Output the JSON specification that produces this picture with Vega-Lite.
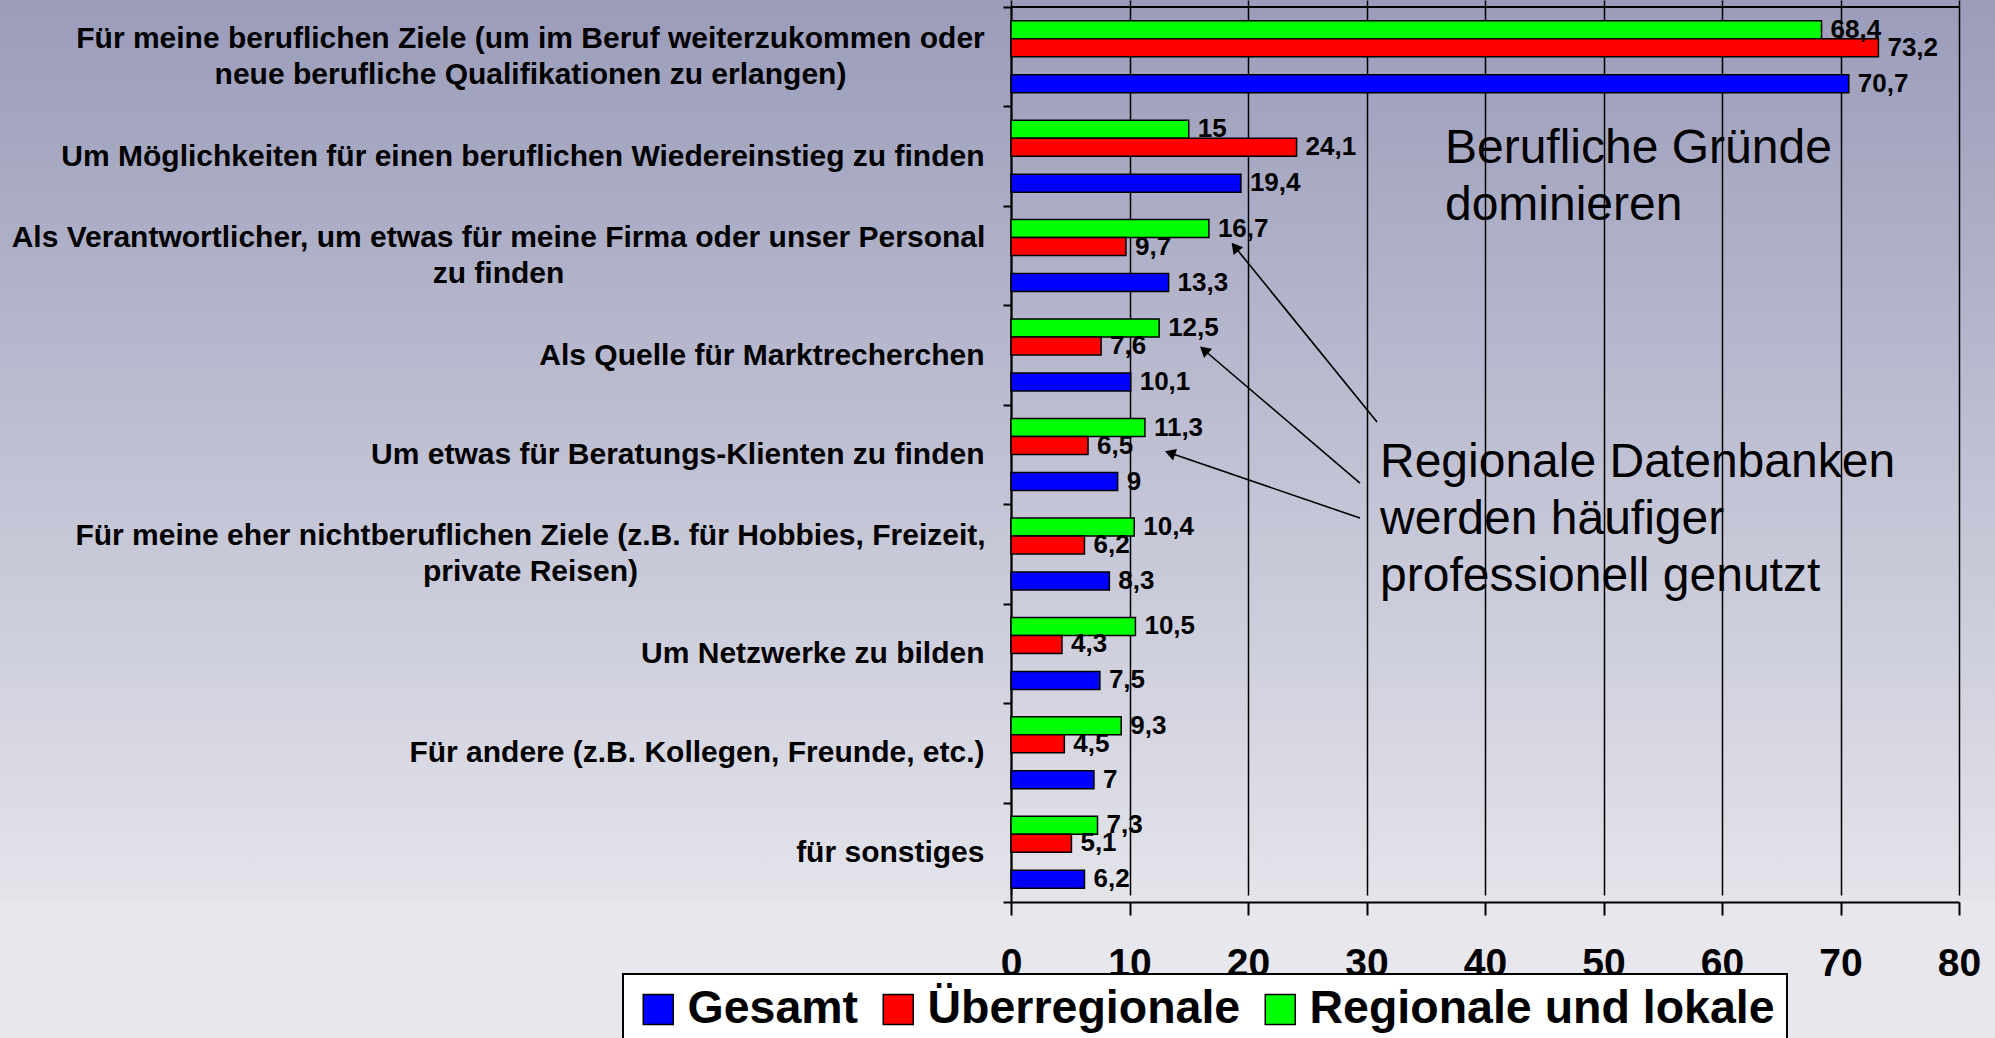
{
  "$schema": "https://vega.github.io/schema/vega-lite/v6.json",
  "width": 1995,
  "height": 902,
  "autosize": {"type": "none"},
  "padding": {"left": 0, "top": 0, "right": 0, "bottom": 136},
  "background": "#e7e7ed",
  "view": {
    "fill": {"gradient": "linear", "x1": 0, "y1": 0, "x2": 0, "y2": 1,
      "stops": [{"offset": 0, "color": "#9a9cba"}, {"offset": 1, "color": "#e4e4eb"}]},
    "stroke": null
  },
  "config": {
    "font": "Liberation Sans",
    "locale": {"number": {"decimal": ",", "thousands": ".", "grouping": [3], "currency": ["", " €"]}},
    "legend": {"strokeWidth": 2}
  },
  "datasets": {
    "umfrage": [
      {"Kategorie": "Für meine beruflichen Ziele (um im Beruf weiterzukommen oder\nneue berufliche Qualifikationen zu erlangen)", "Gesamt": 70.7, "Überregionale": 73.2, "Regionale und lokale": 68.4},
      {"Kategorie": "Um Möglichkeiten für einen beruflichen Wiedereinstieg zu finden", "Gesamt": 19.4, "Überregionale": 24.1, "Regionale und lokale": 15},
      {"Kategorie": "Als Verantwortlicher, um etwas für meine Firma oder unser Personal\nzu finden", "Gesamt": 13.3, "Überregionale": 9.7, "Regionale und lokale": 16.7},
      {"Kategorie": "Als Quelle für Marktrecherchen", "Gesamt": 10.1, "Überregionale": 7.6, "Regionale und lokale": 12.5},
      {"Kategorie": "Um etwas für Beratungs-Klienten zu finden", "Gesamt": 9, "Überregionale": 6.5, "Regionale und lokale": 11.3},
      {"Kategorie": "Für meine eher nichtberuflichen Ziele (z.B. für Hobbies, Freizeit,\nprivate Reisen)", "Gesamt": 8.3, "Überregionale": 6.2, "Regionale und lokale": 10.4},
      {"Kategorie": "Um Netzwerke zu bilden", "Gesamt": 7.5, "Überregionale": 4.3, "Regionale und lokale": 10.5},
      {"Kategorie": "Für andere (z.B. Kollegen, Freunde, etc.)", "Gesamt": 7, "Überregionale": 4.5, "Regionale und lokale": 9.3},
      {"Kategorie": "für sonstiges", "Gesamt": 6.2, "Überregionale": 5.1, "Regionale und lokale": 7.3}
    ],
    "pfeile": [
      {"x_von": 30.89, "y_von": 4.173, "x_bis": 18.9, "y_bis": 2.413},
      {"x_von": 29.45, "y_von": 4.787, "x_bis": 16.29, "y_bis": 3.449},
      {"x_von": 29.45, "y_von": 5.139, "x_bis": 13.42, "y_bis": 4.485}
    ],
    "notizen": [
      {"text": "Berufliche Gründe\ndominieren", "x": 36.62, "y": 1.428},
      {"text": "Regionale Datenbanken\nwerden häufiger\nprofessionell genutzt", "x": 31.14, "y": 4.586}
    ]
  },
  "resolve": {"scale": {"y": "independent"}},
  "layer": [
    {
      "data": {"name": "umfrage"},
      "mark": {"type": "bar", "height": 18, "yOffset": -27, "stroke": "#000", "strokeWidth": 1.5, "opacity": 1},
      "encoding": {
        "y": {"field": "Kategorie", "type": "nominal", "sort": null, "scale": {"range": [7, 902], "paddingInner": 0, "paddingOuter": 0}, "axis": null},
        "x": {
          "field": "Regionale und lokale", "type": "quantitative",
          "scale": {"domain": [0, 80], "range": [1011, 1959], "nice": false, "zero": true},
          "axis": {
            "orient": "bottom", "title": null,
            "values": [0, 10, 20, 30, 40, 50, 60, 70, 80],
            "grid": true, "gridColor": "#000", "gridWidth": 1.5, "gridOpacity": 1,
            "domain": true, "domainColor": "#000", "domainWidth": 2,
            "ticks": true, "tickColor": "#000", "tickWidth": 2, "tickSize": 13,
            "labelFontSize": 39, "labelFontWeight": "bold", "labelColor": "#000",
            "labelPadding": 29, "labelFlush": false, "labelOverlap": false
          }
        },
        "color": {
          "datum": "Regionale und lokale", "type": "nominal",
          "scale": {"domain": ["Gesamt", "Überregionale", "Regionale und lokale"], "range": ["#0000ff", "#ff0000", "#00ff00"]},
          "legend": {
            "orient": "none", "legendX": 623, "legendY": 974, "direction": "horizontal", "title": null,
            "symbolType": "square", "symbolSize": 900, "symbolStrokeColor": "#000", "symbolStrokeWidth": 1.5,
            "symbolOpacity": 1,
            "labelFontSize": 46.5, "labelFontWeight": "bold", "labelColor": "#000", "labelLimit": 0,
            "labelOffset": 6, "columnPadding": 16, "padding": 12,
            "fillColor": "#ffffff", "strokeColor": "#000"
          }
        }
      }
    },
    {
      "data": {"name": "umfrage"},
      "mark": {"type": "bar", "height": 18, "yOffset": -9, "stroke": "#000", "strokeWidth": 1.5, "opacity": 1},
      "encoding": {
        "y": {"field": "Kategorie", "type": "nominal", "sort": null, "scale": {"range": [7, 902], "paddingInner": 0, "paddingOuter": 0}, "axis": null},
        "x": {"field": "Überregionale", "type": "quantitative"},
        "color": {"datum": "Überregionale", "type": "nominal"}
      }
    },
    {
      "data": {"name": "umfrage"},
      "mark": {"type": "bar", "height": 18, "yOffset": 27, "stroke": "#000", "strokeWidth": 1.5, "opacity": 1},
      "encoding": {
        "y": {
          "field": "Kategorie", "type": "nominal", "sort": null,
          "scale": {"range": [7, 902], "paddingInner": 0, "paddingOuter": 0},
          "axis": {
            "orient": "left", "offset": -1011, "title": null,
            "domain": true, "domainColor": "#000", "domainWidth": 2,
            "ticks": true, "tickBand": "extent", "tickColor": "#000", "tickWidth": 2, "tickSize": 8,
            "grid": false,
            "labelFontSize": 30, "labelFontWeight": "bold", "labelColor": "#000",
            "labelLimit": 0, "labelPadding": 19, "labelAlign": "right", "labelBaseline": "middle",
            "labelExpr": "indexof(datum.label, '\\n') >= 0 ? '' : datum.label"
          }
        },
        "x": {"field": "Gesamt", "type": "quantitative"},
        "color": {"datum": "Gesamt", "type": "nominal"}
      }
    },
    {
      "data": {"name": "umfrage"},
      "mark": {"type": "text", "align": "left", "baseline": "middle", "dx": 9, "yOffset": -27, "fontSize": 26, "fontWeight": "bold", "color": "#000"},
      "encoding": {
        "y": {"field": "Kategorie", "type": "nominal", "sort": null, "scale": {"range": [7, 902], "paddingInner": 0, "paddingOuter": 0}, "axis": null},
        "x": {"field": "Regionale und lokale", "type": "quantitative"},
        "text": {"field": "Regionale und lokale", "type": "quantitative"}
      }
    },
    {
      "data": {"name": "umfrage"},
      "mark": {"type": "text", "align": "left", "baseline": "middle", "dx": 9, "yOffset": -9, "fontSize": 26, "fontWeight": "bold", "color": "#000"},
      "encoding": {
        "y": {
          "field": "Kategorie", "type": "nominal", "sort": null,
          "scale": {"range": [7, 902], "paddingInner": 0, "paddingOuter": 0},
          "axis": {
            "orient": "left", "offset": -1011, "title": null,
            "domain": false, "ticks": false, "grid": false,
            "labelFontSize": 30, "labelFontWeight": "bold", "labelColor": "#000",
            "labelLimit": 0, "labelLineHeight": 36, "labelPadding": 513, "labelAlign": "center", "labelBaseline": "middle",
            "labelOffset": -18,
            "labelExpr": "indexof(datum.label, 'Als Verantwortlicher') == 0 ? split(datum.label, '\\n') : ''"
          }
        },
        "x": {"field": "Überregionale", "type": "quantitative"},
        "text": {"field": "Überregionale", "type": "quantitative"}
      }
    },
    {
      "data": {"name": "umfrage"},
      "mark": {"type": "text", "align": "left", "baseline": "middle", "dx": 9, "yOffset": 27, "fontSize": 26, "fontWeight": "bold", "color": "#000"},
      "encoding": {
        "y": {
          "field": "Kategorie", "type": "nominal", "sort": null,
          "scale": {"range": [7, 902], "paddingInner": 0, "paddingOuter": 0},
          "axis": {
            "orient": "left", "offset": -1011, "title": null,
            "domain": false, "ticks": false, "grid": false,
            "labelFontSize": 30, "labelFontWeight": "bold", "labelColor": "#000",
            "labelLimit": 0, "labelLineHeight": 36, "labelPadding": 481, "labelAlign": "center", "labelBaseline": "middle",
            "labelOffset": -18,
            "labelExpr": "indexof(datum.label, '\\n') >= 0 && indexof(datum.label, 'Als Verantwortlicher') != 0 ? split(datum.label, '\\n') : ''"
          }
        },
        "x": {"field": "Gesamt", "type": "quantitative"},
        "text": {"field": "Gesamt", "type": "quantitative"}
      }
    },
    {
      "data": {"name": "pfeile"},
      "mark": {"type": "rule", "color": "#000", "strokeWidth": 1.6},
      "encoding": {
        "x": {"field": "x_von", "type": "quantitative"},
        "x2": {"field": "x_bis"},
        "y": {"field": "y_von", "type": "quantitative",
          "scale": {"domain": [0, 9], "range": [7, 902], "nice": false, "zero": false}, "axis": null},
        "y2": {"field": "y_bis"}
      }
    },
    {
      "data": {"name": "pfeile"},
      "transform": [{"calculate": "atan2((datum.x_bis - datum.x_von) * 11.85, -(datum.y_bis - datum.y_von) * 99.44) * 180 / PI", "as": "winkel"}],
      "mark": {"type": "point", "shape": "triangle-up", "filled": true, "color": "#000", "opacity": 1, "size": 150},
      "encoding": {
        "x": {"field": "x_bis", "type": "quantitative"},
        "y": {"field": "y_bis", "type": "quantitative",
          "scale": {"domain": [0, 9], "range": [7, 902], "nice": false, "zero": false}, "axis": null},
        "angle": {"field": "winkel", "type": "quantitative", "scale": null}
      }
    },
    {
      "data": {"name": "notizen"},
      "mark": {"type": "text", "align": "left", "baseline": "middle", "fontSize": 48, "lineHeight": 57, "lineBreak": "\n", "color": "#000"},
      "encoding": {
        "x": {"field": "x", "type": "quantitative"},
        "y": {"field": "y", "type": "quantitative",
          "scale": {"domain": [0, 9], "range": [7, 902], "nice": false, "zero": false}, "axis": null},
        "text": {"field": "text", "type": "nominal"}
      }
    },
    {
      "data": {"values": [{}]},
      "mark": {"type": "rule", "color": "#000", "strokeWidth": 2},
      "encoding": {
        "x": {"datum": 0, "type": "quantitative"},
        "x2": {"datum": 80},
        "y": {"datum": 0, "type": "quantitative",
          "scale": {"domain": [0, 9], "range": [7, 902], "nice": false, "zero": false}, "axis": null}
      }
    }
  ]
}
